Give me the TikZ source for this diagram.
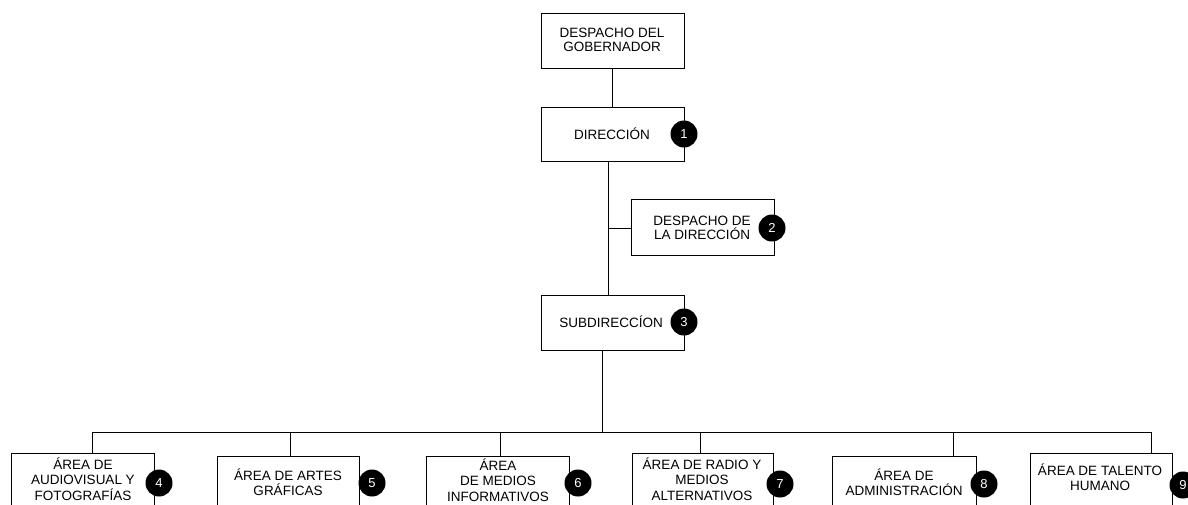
\documentclass[tikz,border=0pt]{standalone}
\usepackage{fontspec}
\setmainfont{Liberation Sans}
\begin{document}
\begin{tikzpicture}[x=1pt,y=-1pt,
  box/.style={draw=black,line width=0.8pt,fill=white},
  lbl/.style={align=center,font=\fontsize{13.5}{14.5}\selectfont,inner sep=0pt},
  blbl/.style={align=center,font=\fontsize{13.5}{15.5}\selectfont,inner sep=0pt},
  num/.style={circle,fill=black,text=white,minimum size=27pt,inner sep=0pt,font=\fontsize{13}{14}\selectfont},
  conn/.style={draw=black,line width=0.9pt}]
\useasboundingbox (0,0) rectangle (1188,504);
% connectors first
\coordinate (jb) at (608,228);
\coordinate (bus) at (602,432);
\draw[conn] (612,68) -- (612,107);
\draw[conn] (608,161) -- (608,295);
\draw[conn] (jb) -- (631,228);
\draw[conn] (602,350) -- (bus);
\draw[conn] (92,456) |- (1151,432) -- (1151,456);
\foreach \x in {290,500,700,953}{\draw[conn] (\x,432) -- (\x,458);}
% top boxes
\draw[box] (541,13) rectangle (684,68);
\node[lbl] (gob) at (612,40) {DESPACHO DEL\\GOBERNADOR};
\draw[box] (541,107) rectangle (684,161);
\node[lbl] (dir) at (612,134) {DIRECCIÓN};
\node[num] (n1) at (684,134) {1};
\draw[box] (631,199) rectangle (774,255);
\node[lbl] (desp) at (702,228) {DESPACHO DE\\LA DIRECCIÓN};
\node[num] (n2) at (772,228) {2};
\draw[box] (541,295) rectangle (684,350);
\node[lbl] (sub) at (611,322) {SUBDIRECCÍON};
\node[num] (n3) at (684,322) {3};
% bottom boxes
\draw[box] (11,530) |- (154,453) -- (154,530);
\node[blbl] (a4) at (83,479) {ÁREA DE\\AUDIOVISUAL Y\\FOTOGRAFÍAS};
\node[num] (n4) at (159,483) {4};
\draw[box] (217,530) |- (359,456) -- (359,530);
\node[blbl] (a5) at (288,482) {ÁREA DE ARTES\\GRÁFICAS};
\node[num] (n5) at (372,483) {5};
\draw[box] (426,530) |- (569,456) -- (569,530);
\node[blbl] (a6) at (498,480) {ÁREA\\DE MEDIOS\\INFORMATIVOS};
\node[num] (n6) at (578,483) {6};
\draw[box] (632,530) |- (773,453) -- (773,530);
\node[blbl] (a7) at (702,479) {ÁREA DE RADIO Y\\MEDIOS\\ALTERNATIVOS};
\node[num] (n7) at (780,484) {7};
\draw[box] (832,530) |- (976,456) -- (976,530);
\node[blbl] (a8) at (904,482) {ÁREA DE\\ADMINISTRACIÓN};
\node[num] (n8) at (984,484) {8};
\draw[box] (1030,530) |- (1172,453) -- (1172,530);
\node[blbl] (a9) at (1100,477) {ÁREA DE TALENTO\\HUMANO};
\node[num] (n9) at (1183,485) {9};
\end{tikzpicture}
\end{document}
